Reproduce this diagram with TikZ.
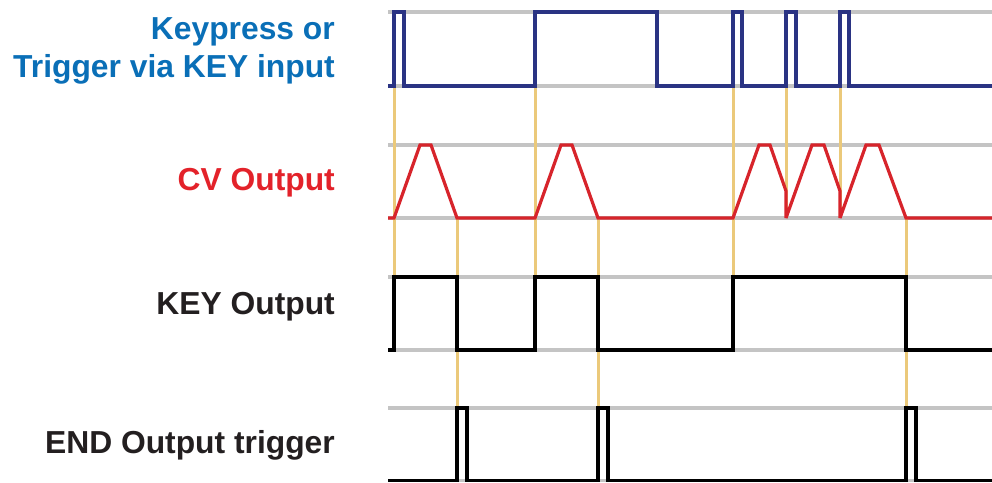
\documentclass[tikz,border=0pt]{standalone}
\usepackage{fontspec}
\setmainfont{Liberation Sans}
\begin{document}
\begin{tikzpicture}[x=1pt,y=-1pt,
  grid/.style={line width=3.2pt,color=gridgray},
  marker/.style={line width=3pt,color=markyellow},
  sig/.style={line width=3.2pt,line join=miter,miter limit=2},
  lbl/.style={anchor=base east,inner sep=0pt,font=\fontsize{31.8}{38}\selectfont\bfseries}]
\definecolor{gridgray}{HTML}{C4C4C4}
\definecolor{markyellow}{HTML}{EBC97A}
\definecolor{sigblue}{HTML}{2A3383}
\definecolor{txtblue}{HTML}{0A6FB7}
\definecolor{sigred}{HTML}{D7242B}
\definecolor{txtred}{HTML}{E3222A}
\definecolor{txtblack}{HTML}{231F20}
\useasboundingbox (0,0) rectangle (992,482);
% grid lines
\foreach \y in {12,86,145,218,277,350,408,480.5}
  \draw[grid] (388,\y) -- (992,\y);
% marker lines
\foreach \x in {394,535,733} \draw[marker] (\x,86) -- (\x,277);
\foreach \x in {786,840} \draw[marker] (\x,86) -- (\x,218);
\foreach \x in {457,598,906} \draw[marker] (\x,218) -- (\x,408);
% Keypress
\draw[sig,sigblue] (388,86) -- (394,86) -- (394,12) -- (404,12) -- (404,86) -- (535,86) -- (535,12) -- (657,12) -- (657,86) -- (733,86) -- (733,12) -- (742,12) -- (742,86) -- (786,86) -- (786,12) -- (796,12) -- (796,86) -- (840,86) -- (840,12) -- (849,12) -- (849,86) -- (992,86);
% CV
\draw[sig,sigred] (388,218) -- (394,218) -- (420,145) -- (431,145) -- (457,218) -- (535,218) -- (561,145) -- (572,145) -- (598,218) -- (733,218) -- (759,145) -- (770,145) -- (786,191) -- (786,218) -- (812,145) -- (824,145) -- (840,191) -- (840,218) -- (866,145) -- (879,145) -- (906,218) -- (992,218);
% KEY output
\draw[sig,black] (388,350) -- (394,350) -- (394,277) -- (457,277) -- (457,350) -- (535,350) -- (535,277) -- (598,277) -- (598,350) -- (733,350) -- (733,277) -- (906,277) -- (906,350) -- (992,350);
% END output
\draw[sig,black] (388,480.5) -- (457,480.5) -- (457,408) -- (467,408) -- (467,480.5) -- (598,480.5) -- (598,408) -- (608,408) -- (608,480.5) -- (906,480.5) -- (906,408) -- (916,408) -- (916,480.5) -- (992,480.5);
% labels
\node[lbl,txtblue] (kp1) at (335,39) {Keypress or};
\node[lbl,txtblue] (kp2) at (335,77) {Trigger via KEY input};
\node[lbl,txtred] (cv) at (335,190) {CV Output};
\node[lbl,txtblack] (key) at (335,314) {KEY Output};
\node[lbl,txtblack] (endt) at (335,453) {END Output trigger};
\end{tikzpicture}
\end{document}
